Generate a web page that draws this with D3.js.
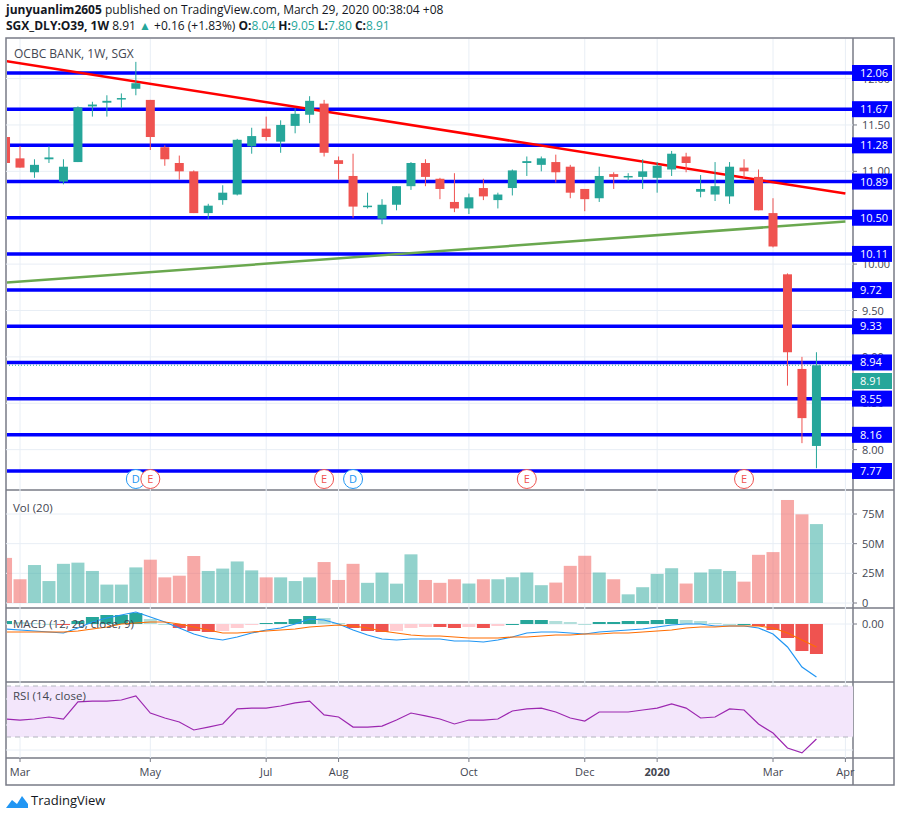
<!DOCTYPE html>
<html><head><meta charset="utf-8">
<script src="https://cdn.jsdelivr.net/npm/d3@7"></script>
<style>body{margin:0;background:#fff;}svg{font-family:"Open Sans","Liberation Sans",sans-serif;}</style>
</head><body><svg id="c" width="900" height="815"></svg>
<script>
const opens  = [11.37,11.14,10.99,11.13,10.89,11.10,11.70,11.74,11.78,11.89,11.77,11.26,11.09,11.00,10.55,10.69,10.75,11.27,11.46,11.32,11.49,11.61,11.73,11.12,10.95,10.62,10.49,10.64,10.84,11.09,10.92,10.67,10.60,10.82,10.69,10.82,11.09,11.07,11.10,11.05,10.81,10.71,10.97,10.94,10.94,10.93,11.02,11.16,10.78,10.75,10.73,11.04,10.94,10.55,9.89,8.87,8.04];
const highs  = [11.40,11.27,11.13,11.27,11.13,11.70,11.75,11.82,11.84,12.18,11.77,11.28,11.17,11.01,10.65,10.85,11.35,11.47,11.59,11.55,11.68,11.81,11.77,11.16,11.19,10.77,10.70,10.84,11.10,11.13,10.93,10.98,10.76,10.92,10.77,11.02,11.16,11.16,11.18,11.07,10.81,11.05,10.99,10.98,11.13,11.10,11.22,11.20,10.96,11.10,11.10,11.13,11.02,10.71,9.90,9.00,9.05];
const lows   = [11.06,11.04,10.93,11.09,10.86,11.10,11.59,11.59,11.68,11.82,11.23,11.06,10.91,10.55,10.49,10.64,10.74,11.19,11.33,11.20,11.41,11.52,11.16,10.91,10.50,10.60,10.43,10.58,10.80,10.84,10.70,10.56,10.54,10.69,10.60,10.74,10.95,11.00,10.88,10.71,10.57,10.67,10.81,10.90,10.81,10.77,10.95,10.99,10.72,10.68,10.65,10.93,10.58,10.18,8.69,8.07,7.80];
const closes = [11.09,11.04,11.07,11.15,11.05,11.69,11.72,11.76,11.79,11.95,11.37,11.13,11.00,10.55,10.63,10.77,11.34,11.38,11.37,11.50,11.62,11.76,11.20,11.08,10.62,10.63,10.64,10.84,11.09,10.94,10.81,10.60,10.72,10.73,10.75,11.01,11.11,11.14,10.99,10.77,10.70,10.95,10.94,10.95,11.00,11.06,11.19,11.09,10.81,10.84,11.05,11.00,10.58,10.19,9.05,8.34,8.91];
const volumes = [38,20,32,18.5,33,34,27,15.5,15.5,30,36.5,21.6,23,39.6,27,29,35,27.5,21.6,21.6,18.5,21.6,34.5,19.4,33,17,25.6,16.3,41,19.4,17,20,16.4,20,20,21.7,25.7,15,17.2,31.3,39.8,25.7,20,7.3,13.3,24.5,29.3,16.4,25.7,28.5,27,18,40.6,42.9,86.8,74.7,66.5];
const macdLine = [-0.05,-0.06,-0.07,-0.08,-0.09,-0.04,0.02,0.06,0.09,0.12,0.07,0.02,-0.04,-0.10,-0.14,-0.16,-0.13,-0.09,-0.06,-0.04,0.00,0.05,0.04,0.00,-0.06,-0.11,-0.15,-0.16,-0.15,-0.15,-0.15,-0.17,-0.17,-0.18,-0.16,-0.13,-0.09,-0.08,-0.08,-0.09,-0.10,-0.08,-0.07,-0.06,-0.05,-0.03,-0.01,0.00,0.00,-0.02,-0.02,-0.02,-0.04,-0.10,-0.23,-0.43,-0.53];
const signalLine = [-0.08,-0.08,-0.08,-0.08,-0.08,-0.07,-0.05,-0.03,0.00,0.01,0.02,0.02,0.00,-0.03,-0.06,-0.09,-0.09,-0.08,-0.07,-0.06,-0.05,-0.03,-0.02,-0.01,-0.02,-0.04,-0.07,-0.09,-0.11,-0.12,-0.12,-0.13,-0.14,-0.14,-0.14,-0.13,-0.13,-0.12,-0.11,-0.11,-0.10,-0.10,-0.09,-0.09,-0.08,-0.07,-0.06,-0.04,-0.03,-0.03,-0.02,-0.02,-0.02,-0.04,-0.09,-0.16,-0.23];
const macdHist = [0.03,0.02,0.01,0.00,-0.01,0.03,0.07,0.09,0.09,0.11,0.05,0.00,-0.04,-0.07,-0.08,-0.07,-0.04,-0.01,0.01,0.02,0.05,0.08,0.06,0.01,-0.04,-0.07,-0.08,-0.07,-0.04,-0.03,-0.03,-0.04,-0.03,-0.04,-0.02,0.00,0.04,0.04,0.03,0.02,0.00,0.02,0.02,0.03,0.03,0.04,0.05,0.04,0.03,0.01,0.00,0.00,-0.02,-0.06,-0.14,-0.27,-0.30];
const rsi = [44.1,43.3,44.1,45.7,44.1,57.5,58.2,58.2,59.0,62.2,48.8,44.9,41.8,35.5,37.8,40.2,52.0,52.7,52.7,54.3,56.7,58.2,47.3,45.7,37.8,37.8,38.6,43.3,48.8,46.5,44.1,40.2,43.3,43.3,44.1,50.4,52.0,52.7,49.6,44.9,42.5,49.6,49.6,49.6,51.2,52.7,55.9,52.7,44.9,45.7,52.0,51.2,40.2,33.1,21.4,17.5,28.4];
const levels = [12.06,11.67,11.28,10.89,10.50,10.11,9.72,9.33,8.94,8.55,8.16,7.77];
const priceTicks = [12.00,11.50,11.00,10.50,10.00,9.50,9.00,8.50,8.00];
const volTicks = [0,25,50,75];
const monthTicks = [["2019-03-04","Mar"],["2019-05-06","May"],["2019-07-01","Jul"],["2019-08-05","Aug"],["2019-10-07","Oct"],["2019-12-02","Dec"],["2020-01-06","2020"],["2020-03-02","Mar"],["2020-04-06","Apr"]];
const events = [["2019-04-29","D"],["2019-05-06","E"],["2019-07-29","E"],["2019-08-12","D"],["2019-11-04","E"],["2020-02-17","E"]];
const redTrend = [["2019-02-25",12.19],["2020-04-06",10.76]];
const greenTrend = [["2019-02-25",9.80],["2020-04-06",10.46]];

const P = d3.timeParse("%Y-%m-%d");
const start = P("2019-02-25");
const dates = opens.map((_, i) => d3.timeDay.offset(start, 7 * i));
const svg = d3.select("#c");
const GREEN = "#26a69a", RED = "#ef5350", BLUE = "#0000ff";
const L = 6, R = 853, AX = 894;
const x = d3.scaleTime().domain([P("2019-03-04"), P("2020-03-02")]).range([20, 773]);
const y = d3.scaleLinear().domain([7.77, 12.06]).range([471, 73]);
const yv = d3.scaleLinear().domain([0, 75]).range([603, 514]);
const ym = d3.scaleLinear().domain([0, -0.53]).range([624, 677]);
const yr = d3.scaleLinear().domain([30, 70]).range([737, 686]);

const h1 = svg.append("text").attr("x", 6).attr("y", 14).attr("font-size", 12).attr("fill", "#131722");
h1.append("tspan").attr("font-weight", "bold").text("junyuanlim2605");
h1.append("tspan").text(" published on TradingView.com, March 29, 2020 00:38:04 +08");
const h2 = svg.append("text").attr("x", 6).attr("y", 30).attr("font-size", 12).attr("fill", "#131722");
h2.append("tspan").attr("font-weight", "bold").text("SGX_DLY:O39, 1W");
h2.append("tspan").text(" 8.91 ");
h2.append("tspan").attr("fill", GREEN).text("▲");
h2.append("tspan").text(" +0.16 (+1.83%) ");
[["O:", "8.04"], ["H:", "9.05"], ["L:", "7.80"], ["C:", "8.91"]].forEach(([k, v]) => {
  h2.append("tspan").attr("font-weight", "bold").text(k);
  h2.append("tspan").attr("fill", GREEN).text(v + " ");
});

svg.append("rect").attr("x", L).attr("y", 38).attr("width", AX - L).attr("height", 747).attr("fill", "none").attr("stroke", "#787b86").attr("stroke-width", 1.5);
[490, 608, 682, 758].forEach(v => svg.append("line").attr("x1", L).attr("x2", AX).attr("y1", v).attr("y2", v).attr("stroke", "#787b86").attr("stroke-width", 1.5));
svg.append("line").attr("x1", R).attr("x2", R).attr("y1", 38).attr("y2", 785).attr("stroke", "#787b86").attr("stroke-width", 1.5);

const grid = svg.append("g").attr("stroke", "#e8eef5").attr("stroke-width", 1);
monthTicks.forEach(([d]) => grid.append("line").attr("x1", x(P(d))).attr("x2", x(P(d))).attr("y1", 39).attr("y2", 758));
priceTicks.forEach(p => grid.append("line").attr("x1", L).attr("x2", R).attr("y1", y(p)).attr("y2", y(p)));
volTicks.forEach(v => grid.append("line").attr("x1", L).attr("x2", R).attr("y1", yv(v)).attr("y2", yv(v)));
grid.append("line").attr("x1", L).attr("x2", R).attr("y1", ym(0)).attr("y2", ym(0));
[699, 725, 750].forEach(v => grid.append("line").attr("x1", L).attr("x2", R).attr("y1", v).attr("y2", v));

svg.append("clipPath").attr("id", "cp").append("rect").attr("x", L + 1).attr("y", 39).attr("width", R - L - 1).attr("height", 719);
const g = svg.append("g").attr("clip-path", "url(#cp)");

g.append("rect").attr("x", L).attr("width", R - L).attr("y", yr(70)).attr("height", yr(30) - yr(70)).attr("fill", "#f3e6fb");
[70, 30].forEach(v => g.append("line").attr("x1", L).attr("x2", R).attr("y1", yr(v)).attr("y2", yr(v)).attr("stroke", "#b2b5be").attr("stroke-dasharray", "5,4"));
g.append("path").datum(rsi).attr("fill", "none").attr("stroke", "#9c27b0").attr("stroke-width", 1.2)
  .attr("d", d3.line().x((d, i) => x(dates[i])).y(d => yr(d)));

levels.forEach(l => g.append("line").attr("x1", L).attr("x2", R).attr("y1", y(l)).attr("y2", y(l)).attr("stroke", BLUE).attr("stroke-width", 3.5));
g.append("line").attr("x1", L).attr("x2", R).attr("y1", y(8.91)).attr("y2", y(8.91)).attr("stroke", GREEN).attr("stroke-dasharray", "1,2");

g.append("line").attr("x1", x(P(redTrend[0][0]))).attr("y1", y(redTrend[0][1])).attr("x2", x(P(redTrend[1][0]))).attr("y2", y(redTrend[1][1])).attr("stroke", "#ff0000").attr("stroke-width", 2.5);
g.append("line").attr("x1", x(P(greenTrend[0][0]))).attr("y1", y(greenTrend[0][1])).attr("x2", x(P(greenTrend[1][0]))).attr("y2", y(greenTrend[1][1])).attr("stroke", "#6aa84f").attr("stroke-width", 2.5);

const cw = 9;
opens.forEach((o, i) => {
  const c = closes[i], col = c >= o ? GREEN : RED, cx = x(dates[i]);
  g.append("line").attr("x1", cx).attr("x2", cx).attr("y1", y(highs[i])).attr("y2", y(lows[i])).attr("stroke", col).attr("stroke-width", 1);
  g.append("rect").attr("x", cx - cw / 2).attr("width", cw).attr("y", y(Math.max(o, c))).attr("height", Math.max(1.5, Math.abs(y(o) - y(c)))).attr("fill", col);
  g.append("rect").attr("x", cx - 6.5).attr("width", 13).attr("y", yv(volumes[i])).attr("height", yv(0) - yv(volumes[i])).attr("fill", col).attr("opacity", 0.5);
  const hv = macdHist[i], prev = i ? macdHist[i - 1] : hv;
  const hc = hv >= 0 ? (hv >= prev ? "#26a69a" : "#b2dfdb") : (hv <= prev ? "#ef5350" : "#ffcdd2");
  g.append("rect").attr("x", cx - 6.5).attr("width", 13).attr("y", Math.min(ym(hv), ym(0))).attr("height", Math.max(1, Math.abs(ym(hv) - ym(0)))).attr("fill", hc);
});
g.append("path").datum(macdLine).attr("fill", "none").attr("stroke", "#2196f3").attr("stroke-width", 1.2).attr("d", d3.line().x((d, i) => x(dates[i])).y(d => ym(d)));
g.append("path").datum(signalLine).attr("fill", "none").attr("stroke", "#ff6d00").attr("stroke-width", 1.2).attr("d", d3.line().x((d, i) => x(dates[i])).y(d => ym(d)));

events.forEach(([d, t]) => {
  const col = t === "D" ? "#2196f3" : "#ef5350", cx = x(P(d));
  svg.append("circle").attr("cx", cx).attr("cy", 479).attr("r", 9.5).attr("fill", "#fff").attr("stroke", col).attr("stroke-width", 1);
  svg.append("text").attr("x", cx).attr("y", 483).attr("text-anchor", "middle").attr("font-size", 11).attr("fill", col).text(t);
});

svg.append("text").attr("x", 14).attr("y", 58).attr("font-size", 12).attr("fill", "#434651").text("OCBC BANK, 1W, SGX");
svg.append("text").attr("x", 13).attr("y", 512).attr("font-size", 11.5).attr("fill", "#434651").text("Vol (20)");
svg.append("text").attr("x", 13).attr("y", 628).attr("font-size", 11.5).attr("fill", "#434651").text("MACD (12, 26, close, 9)");
svg.append("text").attr("x", 13).attr("y", 700).attr("font-size", 11.5).attr("fill", "#434651").text("RSI (14, close)");

const ax = svg.append("g").attr("font-size", 11).attr("fill", "#434651");
function tick(yy, label) {
  svg.append("line").attr("x1", R).attr("x2", R + 4).attr("y1", yy).attr("y2", yy).attr("stroke", "#787b86");
  ax.append("text").attr("x", R + 9).attr("y", yy + 4).text(label);
}
priceTicks.forEach(p => tick(y(p), d3.format(".2f")(p)));
volTicks.forEach(v => tick(yv(v), v ? v + "M" : "0"));
tick(ym(0), "0.00");
levels.forEach(l => {
  svg.append("rect").attr("x", R - 1).attr("y", y(l) - 8).attr("width", 40).attr("height", 16).attr("fill", BLUE);
  svg.append("text").attr("x", R + 7).attr("y", y(l) + 4).attr("font-size", 11).attr("fill", "#fff").text(d3.format(".2f")(l));
});
svg.append("rect").attr("x", R - 1).attr("y", 373).attr("width", 40).attr("height", 16).attr("fill", GREEN);
svg.append("text").attr("x", R + 7).attr("y", 385).attr("font-size", 11).attr("fill", "#fff").text("8.91");

monthTicks.forEach(([d, t]) => {
  const xx = x(P(d));
  svg.append("line").attr("x1", xx).attr("x2", xx).attr("y1", 758).attr("y2", 762).attr("stroke", "#787b86");
  svg.append("text").attr("x", xx).attr("y", 776).attr("text-anchor", "middle").attr("font-size", 11)
    .attr("font-weight", t === "2020" ? "bold" : "normal").attr("fill", "#434651").text(t);
});

const lg = svg.append("g").attr("transform", "translate(6,792)");
lg.append("path").attr("d", "M0,16 L6,8 L11,12 L16,4 L22,12 L22,16 Z").attr("fill", "#2196f3");
svg.append("text").attr("x", 31).attr("y", 805).attr("font-size", 13).attr("fill", "#131722").text("TradingView");
</script></body></html>
